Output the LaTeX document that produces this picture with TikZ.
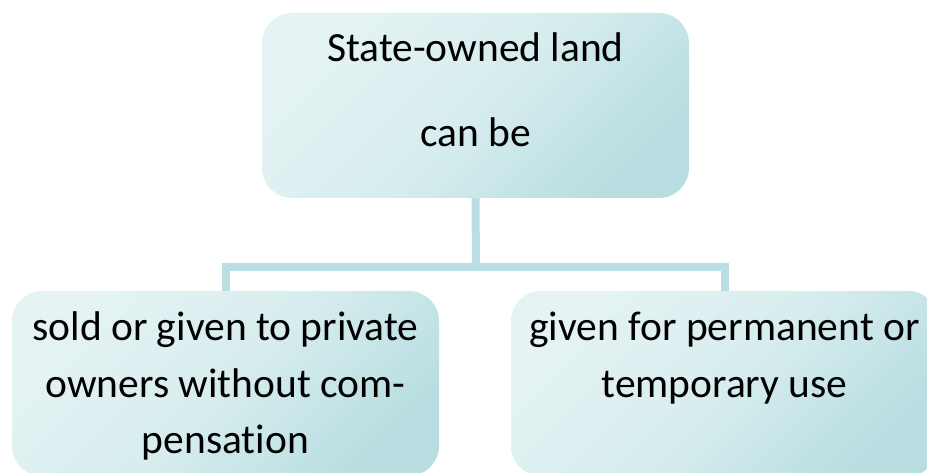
\documentclass[tikz,border=0pt]{standalone}
\usepackage{fontspec}
\setmainfont[RawFeature=-liga]{Carlito}
\definecolor{boxlight}{RGB}{229,243,244}
\definecolor{boxdark}{RGB}{184,222,225}
\definecolor{connc}{RGB}{185,223,226}
\tikzset{
  box/.style={rounded corners=30pt, minimum width=427pt, minimum height=185pt,
    inner sep=0pt, top color=boxlight, bottom color=boxdark,
    middle color=boxlight!70!boxdark, shading angle=45},
  txt/.style={anchor=base, inner sep=0pt, font=\fontsize{41.5}{50}\selectfont, text=black},
  conn/.style={draw=connc, line width=8pt}
}
\begin{document}
\begin{tikzpicture}[x=1pt,y=-1pt]
\useasboundingbox (0,0) rectangle (927,473);
\node[box] (top) at (475.5,105.5) {};
\node[box] (lft) at (225.5,383.5) {};
\node[box] (rgt) at (724.5,383.5) {};
\coordinate (j) at (476,267);
\draw[conn] (top.south) -- (j);
\draw[conn] (lft.north) |- (j) -| (rgt.north);
\node[txt] (t1) at (475.5,62) {State-owned land};
\node[txt] (t2) at (475.5,147) {can be};
\node[txt] (l1) at (225.5,341) {sold or given to private};
\node[txt] (l2) at (225.5,397) {owners without com-};
\node[txt] (l3) at (225.5,453) {pensation};
\node[txt] (r1) at (724.5,341) {given for permanent or};
\node[txt] (r2) at (724.5,397) {temporary use};
\end{tikzpicture}
\end{document}
